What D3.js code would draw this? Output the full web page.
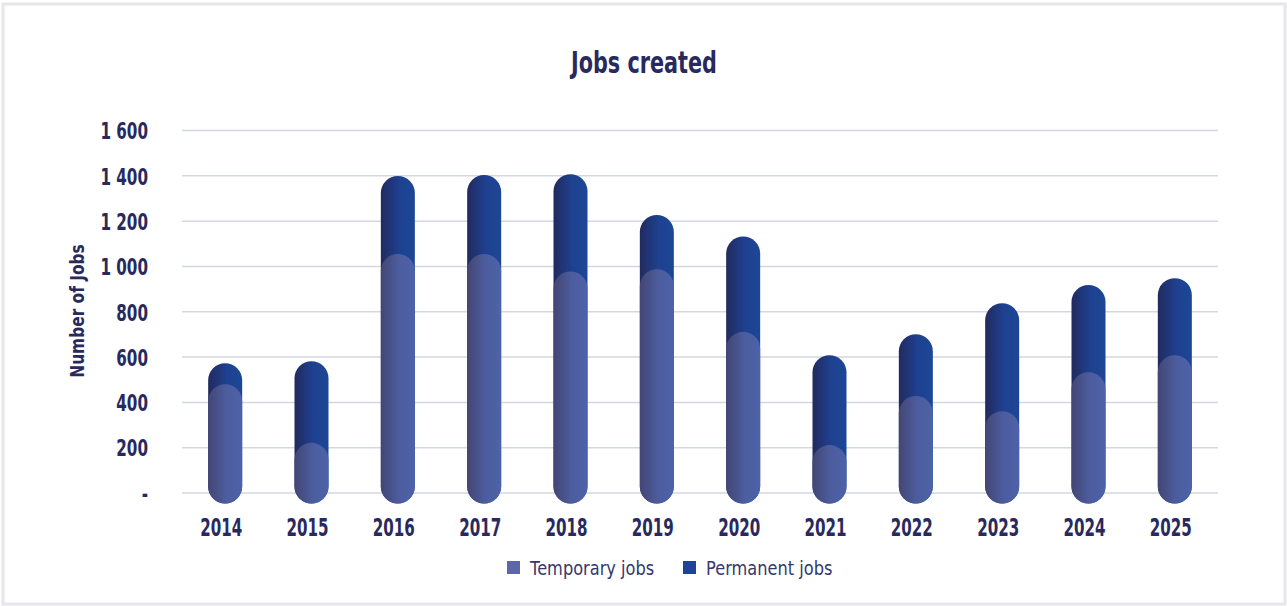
<!DOCTYPE html>
<html>
<head>
<meta charset="utf-8">
<script src="https://cdn.jsdelivr.net/npm/d3@7"></script>
<style>
  html, body { margin: 0; padding: 0; background: #fff; }
  svg text { font-family: "DejaVu Sans", sans-serif; }
</style>
</head>
<body>
<script>
    // values
    var years = ["2014", "2015", "2016", "2017", "2018", "2019", "2020", "2021", "2022", "2023", "2024", "2025"];
    var temporaryJobs = [434, 175, 1009, 1009, 931, 941, 665, 165, 382, 315, 487, 562];
    var permanentJobs = [92, 360, 344, 348, 430, 240, 421, 397, 272, 476, 385, 340];
    var yTicks = [0, 200, 400, 600, 800, 1000, 1200, 1400, 1600];
    var seriesNames = ["Temporary jobs", "Permanent jobs"];

    var width = 1287, height = 606;
    var navy = "#282a5e";

    // the original face is a narrow one, squeeze the text to match
    function condense(sel, k) {
        sel.each(function () {
            var len = this.getComputedTextLength();
            d3.select(this)
                .attr("textLength", len * k)
                .attr("lengthAdjust", "spacingAndGlyphs");
        });
    }

    var svg = d3.select("body").append("svg")
        .attr("width", width)
        .attr("height", height);

    // light frame around the card
    svg.append("rect")
        .attr("x", 3).attr("y", 4)
        .attr("width", width - 5).attr("height", height - 6)
        .attr("fill", "#fff")
        .attr("stroke", "#e6e6ec")
        .attr("stroke-width", 3);

    var defs = svg.append("defs");
    var gTemp = defs.append("linearGradient").attr("id", "gradTemp")
        .attr("x1", "0%").attr("x2", "100%").attr("y1", "0%").attr("y2", "0%");
    gTemp.append("stop").attr("offset", "0%").attr("stop-color", "#434673");
    gTemp.append("stop").attr("offset", "55%").attr("stop-color", "#4c5d9f");
    gTemp.append("stop").attr("offset", "100%").attr("stop-color", "#4e62a8");

    var gPerm = defs.append("linearGradient").attr("id", "gradPerm")
        .attr("x1", "0%").attr("x2", "100%").attr("y1", "0%").attr("y2", "0%");
    gPerm.append("stop").attr("offset", "0%").attr("stop-color", "#222a5e");
    gPerm.append("stop").attr("offset", "55%").attr("stop-color", "#1e4190");
    gPerm.append("stop").attr("offset", "100%").attr("stop-color", "#1c4796");

    var x = d3.scaleBand()
        .domain(years)
        .range([182, 1218])
        .paddingInner(0.606)
        .paddingOuter(0.303);

    var y = d3.scaleLinear()
        .domain([0, 1600])
        .range([493, 130.5]);

    // grid lines
    svg.append("g").selectAll("line")
        .data(yTicks)
        .enter()
        .append("line")
        .attr("x1", 182).attr("x2", 1218)
        .attr("y1", function (d) { return y(d); })
        .attr("y2", function (d) { return y(d); })
        .attr("stroke", "#d3d7e1")
        .attr("stroke-width", 1.5);

    // y axis labels
    var yAxis = d3.axisLeft(y)
        .tickValues(yTicks)
        .tickSize(0)
        .tickPadding(0)
        .tickFormat(function (d) {
            if (d === 0) { return "-"; }
            return d3.format(",")(d).replace(",", " ");
        });

    var yAxisG = svg.append("g")
        .attr("transform", "translate(148,0)")
        .call(yAxis);
    yAxisG.select(".domain").remove();
    yAxisG.selectAll("text")
        .attr("fill", navy)
        .attr("font-size", 23)
        .attr("font-weight", "bold")
        .attr("dy", "0.36em")
        .call(condense, 0.66);

    // x axis labels
    var xAxis = d3.axisBottom(x).tickSize(0).tickPadding(0);
    var xAxisG = svg.append("g")
        .attr("transform", "translate(-4,527)")
        .call(xAxis);
    xAxisG.select(".domain").remove();
    xAxisG.selectAll("text")
        .attr("fill", navy)
        .attr("font-size", 24)
        .attr("font-weight", "bold")
        .attr("dy", "0.36em")
        .call(condense, 0.63);

    // bars: full total in dark blue, temporary drawn over it
    var ext = 10.5;
    var bw = x.bandwidth();

    var bars = svg.append("g").selectAll("g")
        .data(years)
        .enter()
        .append("g");

    bars.append("rect")
        .attr("x", function (d) { return x(d); })
        .attr("width", bw)
        .attr("y", function (d, i) { return y(temporaryJobs[i] + permanentJobs[i]) - ext; })
        .attr("height", function (d, i) { return y(0) - y(temporaryJobs[i] + permanentJobs[i]) + 2 * ext; })
        .attr("rx", bw / 2)
        .attr("ry", bw / 2)
        .attr("fill", "url(#gradPerm)");

    bars.append("rect")
        .attr("x", function (d) { return x(d); })
        .attr("width", bw)
        .attr("y", function (d, i) { return y(temporaryJobs[i]) - ext; })
        .attr("height", function (d, i) { return y(0) - y(temporaryJobs[i]) + 2 * ext; })
        .attr("rx", bw / 2)
        .attr("ry", bw / 2)
        .attr("fill", "url(#gradTemp)");

    // title
    svg.append("text")
        .attr("x", 644)
        .attr("y", 73)
        .attr("text-anchor", "middle")
        .attr("fill", navy)
        .attr("font-size", 31)
        .attr("font-weight", "bold")
        .text("Jobs created")
        .call(condense, 0.67);

    // y axis title
    svg.append("text")
        .attr("transform", "translate(84,311) rotate(-90)")
        .attr("text-anchor", "middle")
        .attr("fill", navy)
        .attr("font-size", 20)
        .attr("font-weight", "bold")
        .text("Number of Jobs")
        .call(condense, 0.77);

    // legend
    var legendColors = ["#5b67a8", "#1e4595"];
    var legendX = [507, 683];
    var legend = svg.append("g").selectAll("g")
        .data(seriesNames)
        .enter()
        .append("g")
        .attr("transform", function (d, i) { return "translate(" + legendX[i] + ",561)"; });

    legend.append("rect")
        .attr("width", 13).attr("height", 13)
        .attr("fill", function (d, i) { return legendColors[i]; });

    legend.append("text")
        .attr("x", 23)
        .attr("y", 14)
        .attr("fill", "#35386b")
        .attr("font-size", 20)
        .text(function (d) { return d; })
        .call(condense, 0.81);
</script>
</body>
</html>
